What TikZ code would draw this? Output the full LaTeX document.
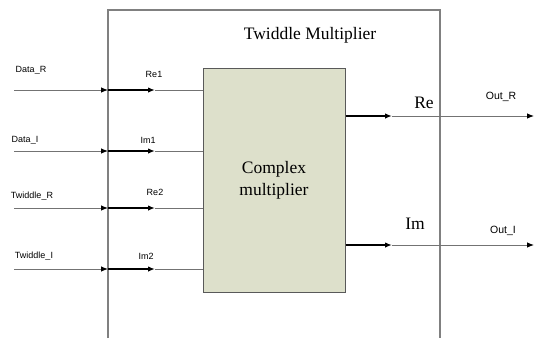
\documentclass[tikz,border=0pt]{standalone}
\usepackage{fontspec}
\setmainfont{Liberation Serif}
\setsansfont{Liberation Sans}
\usetikzlibrary{arrows.meta,positioning}
\definecolor{corefill}{HTML}{DDE0CB}
\tikzset{
  frame/.style = { draw=black!50, line width=1.2pt },
  wire/.style  = { draw=black!55, line width=0.9pt },
  tip/.style   = { -{Latex[length=7pt,width=5.5pt,color=black]} },
  bus/.style   = { draw=black, line width=1.5pt },
  sig/.style   = { font=\sffamily\fontsize{9}{10}\selectfont, inner sep=0pt },
  outsig/.style= { font=\sffamily\fontsize{10.5}{12}\selectfont, inner sep=0pt },
  port/.style  = { font=\fontsize{17.5}{20}\selectfont, inner sep=0pt },
  core/.style  = { draw=black!65, line width=1pt, fill=corefill, minimum width=142pt,
                   minimum height=224pt, align=center, font=\fontsize{17.5}{22}\selectfont }
}

\begin{document}
\begin{tikzpicture}[x=1pt,y=-1pt]
    \useasboundingbox (0,0) rectangle (534,338);

    % outer block
    \draw[frame] (108,338) -- (108,10) -- (440,10) -- (440,338);
    \node[port] (title) at (310,35) {Twiddle Multiplier};
    \node[core] (cmul) at (274,180) {Complex\\multiplier};

    % inputs
    \coordinate (dr) at (14,90);   \coordinate (drIn) at (108,90);   \coordinate (drMid) at (155,90);
    \coordinate (di) at (14,151);  \coordinate (diIn) at (108,151);  \coordinate (diMid) at (155,151);
    \coordinate (tr) at (14,208);  \coordinate (trIn) at (108,208);  \coordinate (trMid) at (155,208);
    \coordinate (ti) at (14,269);  \coordinate (tiIn) at (108,269);  \coordinate (tiMid) at (155,269);

    \draw[wire,tip] (dr) -- (drIn);  \draw[bus,tip] (drIn) -- (drMid);  \draw[wire] (drMid) -- (drMid -| cmul.west);
    \draw[wire,tip] (di) -- (diIn);  \draw[bus,tip] (diIn) -- (diMid);  \draw[wire] (diMid) -- (diMid -| cmul.west);
    \draw[wire,tip] (tr) -- (trIn);  \draw[bus,tip] (trIn) -- (trMid);  \draw[wire] (trMid) -- (trMid -| cmul.west);
    \draw[wire,tip] (ti) -- (tiIn);  \draw[bus,tip] (tiIn) -- (tiMid);  \draw[wire] (tiMid) -- (tiMid -| cmul.west);

    \node[sig] (drLbl) at (31,70)    {Data\_R};
    \node[sig] (diLbl) at (25,140)   {Data\_I};
    \node[sig] (trLbl) at (32,196)   {Twiddle\_R};
    \node[sig] (tiLbl) at (34,256)   {Twiddle\_I};
    \node[sig] (re1) at (154,74)     {Re1};
    \node[sig] (im1) at (148,140)    {Im1};
    \node[sig] (re2) at (155,192)    {Re2};
    \node[sig] (im2) at (146,256)    {Im2};

    % outputs
    \coordinate (reMid) at (392,116);  \coordinate (reOut) at (534,116);
    \coordinate (imMid) at (392,245);  \coordinate (imOut) at (534,245);

    \draw[bus,tip] (reMid -| cmul.east) -- (reMid);  \draw[wire,tip] (reMid) -- (reOut);
    \draw[bus,tip] (imMid -| cmul.east) -- (imMid);  \draw[wire,tip] (imMid) -- (imOut);

    \node[port] (re) at (424,103)      {Re};
    \node[port] (im) at (415,224)      {Im};
    \node[outsig] (outR) at (501,97)   {Out\_R};
    \node[outsig] (outI) at (503,231)  {Out\_I};
\end{tikzpicture}
\end{document}
